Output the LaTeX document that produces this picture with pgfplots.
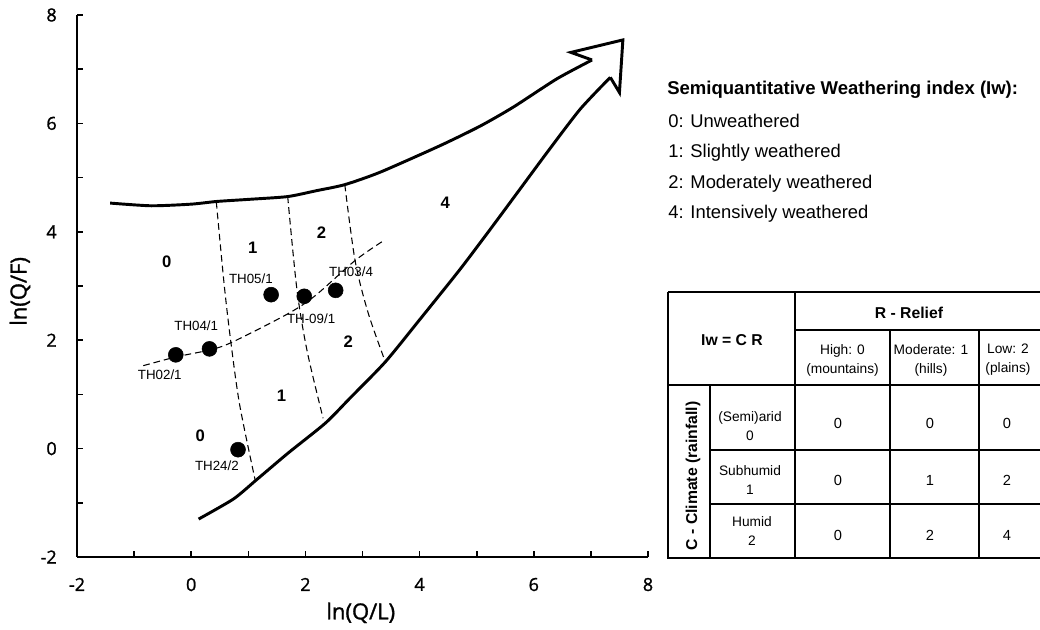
\documentclass[border=0pt]{standalone}
\usepackage{fontspec}
\setmainfont{Liberation Sans}
\newfontfamily\osans[FakeBold=1.3]{Open Sans}
\usepackage{pgfplots}
\pgfplotsset{compat=1.18}
\begin{document}
\begin{tikzpicture}
\useasboundingbox (0,0) rectangle (780pt,-472.5pt);
\begin{axis}[
  at={(57.75pt,-417.75pt)}, anchor=south west,
  scale only axis, width=428.25pt, height=406.5pt,
  xmin=-2, xmax=8, ymin=-2, ymax=8,
  axis lines=left, axis line style={-, line width=1.5pt},
  xtick={-2,0,2,4,6,8}, xticklabels={-2,0,2,4,6,8},
  ytick={-2,0,2,4,6,8}, yticklabels={-2,0,2,4,6,8},
  minor xtick={-1,1,3,5,7}, minor ytick={-1,1,3,5,7},
  tick align=inside, major tick length=4.5pt, minor tick length=4.5pt,
  tick style={line width=1.2pt, black},
  xticklabel style={font=\osans\fontsize{13.5}{15}\selectfont, inner sep=0pt, anchor=north, yshift=-15.5pt},
  yticklabel style={font=\osans\fontsize{13.5}{15}\selectfont, inner sep=0pt, anchor=east, xshift=-15pt},
  xlabel={ln(Q/L)}, ylabel={ln(Q/F)},
  xlabel style={font=\osans\fontsize{16.5}{18}\selectfont, at={(axis description cs:0.497,-0.103)}, anchor=center},
  ylabel style={font=\osans\fontsize{16.5}{18}\selectfont, at={(axis description cs:-0.1,0.49)}, anchor=center},
  clip=false,
]
% upper boundary curve
\addplot[black, line width=2.2pt, smooth, tension=0.4] coordinates {
 (-1.42,4.53) (-0.70,4.48) (0.0,4.51) (0.45,4.56) (1.03,4.60) (1.69,4.65)
 (2.20,4.76) (2.69,4.87) (3.31,5.10) (4.36,5.59) (5.06,5.95) (5.64,6.30) (6.40,6.82) (7.02,7.17)};
% arrow head
\addplot[black, line width=2.2pt, line join=miter, sharp plot] coordinates {
 (7.02,7.17) (6.65,7.31) (7.56,7.54) (7.50,6.57) (7.34,6.85)};
% lower boundary curve
\addplot[black, line width=2.2pt, smooth, tension=0.4] coordinates {
 (0.13,-1.30) (0.74,-0.93) (1.15,-0.57) (1.70,-0.08) (2.35,0.47) (2.78,0.93)
 (3.40,1.60) (4.01,2.39) (4.71,3.31) (5.24,4.05) (5.76,4.79) (6.23,5.46) (6.81,6.26) (7.34,6.85)};
% dashed boundaries
\addplot[black, line width=0.8pt, dash pattern=on 5pt off 3pt, smooth] coordinates {
 (0.44,4.55) (0.58,3.00) (0.70,1.92) (0.85,0.80) (1.12,-0.58)};
\addplot[black, line width=0.8pt, dash pattern=on 5pt off 3pt, smooth] coordinates {
 (1.69,4.65) (1.85,2.95) (2.03,1.80) (2.31,0.56)};
\addplot[black, line width=0.8pt, dash pattern=on 5pt off 3pt, smooth] coordinates {
 (2.69,4.87) (2.87,3.47) (3.10,2.50) (3.40,1.60)};
\addplot[black, line width=0.8pt, dash pattern=on 5pt off 3pt, smooth] coordinates {
 (-0.84,1.53) (-0.27,1.69) (0.32,1.82) (0.71,1.96) (1.68,2.48) (2.17,2.82) (2.87,3.47) (3.36,3.83)};
% samples
\addplot[only marks, mark=*, mark size=5.6pt, black] coordinates {
 (-0.27,1.73) (0.32,1.84) (0.82,-0.02) (1.40,2.84) (1.98,2.81) (2.53,2.92)};
% sample labels
\begin{scope}[every node/.style={font=\fontsize{10}{12}\selectfont, inner sep=0pt}]
\node at (axis cs:-0.55,1.37) {TH02/1};
\node at (axis cs:0.088,2.27) {TH04/1};
\node at (axis cs:0.45,-0.32) {TH24/2};
\node at (axis cs:1.045,3.14) {TH05/1};
\node at (axis cs:2.10,2.39) {TH-09/1};
\node at (axis cs:2.80,3.26) {TH03/4};
\end{scope}
% region labels
\begin{scope}[every node/.style={font=\bfseries\fontsize{12.5}{14}\selectfont, inner sep=0pt}]
\node at (axis cs:-0.43,3.44) {0};
\node at (axis cs:1.08,3.71) {1};
\node at (axis cs:2.28,3.98) {2};
\node at (axis cs:4.45,4.54) {4};
\node at (axis cs:2.75,1.98) {2};
\node at (axis cs:1.58,0.97) {1};
\node at (axis cs:0.16,0.24) {0};
\end{scope}
\end{axis}
\begin{scope}[x=0.75pt, y=-0.75pt]
% legend text
\node[anchor=base west, inner sep=0pt, font=\bfseries\fontsize{13.9}{16}\selectfont] at (667,95) {Semiquantitative Weathering index (Iw):};
\begin{scope}[every node/.style={anchor=base west, inner sep=0pt, font=\fontsize{13.8}{16}\selectfont}]
\node at (668,127.3) {0: Unweathered};
\node at (668,157.3) {1: Slightly weathered};
\node at (668,189) {2: Moderately weathered};
\node at (668,219) {4: Intensively weathered};
\end{scope}
% table
\begin{scope}[line width=0.9pt]
\draw (668,292) -- (1040,292);
\draw (668,292) -- (668,558) -- (1040,558);
\draw (795,292) -- (795,558);
\draw (795,330) -- (1040,330);
\draw (668,385) -- (1040,385);
\draw (710,385) -- (710,558);
\draw (890,330) -- (890,558);
\draw (979,330) -- (979,558);
\draw (710,450) -- (1040,450);
\draw (710,504) -- (1040,504);
\end{scope}
\begin{scope}[every node/.style={inner sep=0pt, font=\bfseries\fontsize{11.8}{14}\selectfont}]
\node at (732,340) {Iw = C R};
\node at (909,313) {R - Relief};
\node[rotate=90] at (693,476) {C - Climate (rainfall)};
\end{scope}
\begin{scope}[every node/.style={inner sep=0pt, align=center, font=\fontsize{10.3}{14.2}\selectfont}]
\node at (842.5,360) {High: 0\\(mountains)};
\node at (931,360) {Moderate: 1\\(hills)};
\node at (1008,360) {Low: 2\\(plains)};
\node at (750,426) {(Semi)arid\\0};
\node at (750,480) {Subhumid\\1};
\node at (752,531) {Humid\\2};
\end{scope}
\begin{scope}[every node/.style={inner sep=0pt, font=\fontsize{11}{13}\selectfont}]
\node at (838,423) {0}; \node at (930,423) {0}; \node at (1007,423) {0};
\node at (838,480) {0}; \node at (930,480) {1}; \node at (1007,480) {2};
\node at (838,535) {0}; \node at (930,535) {2}; \node at (1007,535) {4};
\end{scope}
\end{scope}
\end{tikzpicture}
\end{document}
